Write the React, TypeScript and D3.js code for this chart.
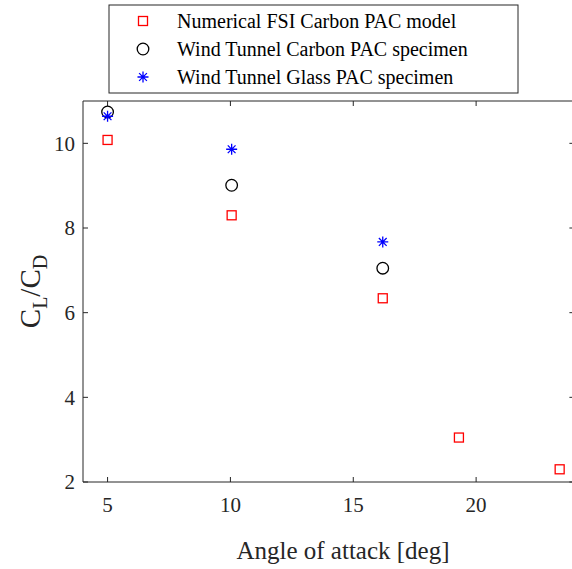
import React from "react";
import * as d3 from "d3";

// Angle of attack [deg] for each series
const fsiAngles = [5, 10.05, 16.2, 19.3, 23.4];
const fsiRatios = [10.08, 8.3, 6.34, 3.05, 2.3];

const carbonAngles = [5, 10.05, 16.2];
const carbonRatios = [10.74, 9.01, 7.05];

const glassAngles = [5, 10.05, 16.2];
const glassRatios = [10.64, 9.86, 7.67];

const xTicks = [5, 10, 15, 20];
const yTicks = [2, 4, 6, 8, 10];

const legendLabels = [
  "Numerical FSI Carbon PAC model",
  "Wind Tunnel Carbon PAC specimen",
  "Wind Tunnel Glass PAC specimen",
];

const W = 572;
const H = 569;
const plot = { left: 83, right: 574.4, top: 101, bottom: 482 };
const axisColor = "#262626";
const font = "'Liberation Serif', 'Times New Roman', serif";

function Square({ x, y }: { x: number; y: number }) {
  const s = 9;
  return (
    <rect x={x - s / 2} y={y - s / 2} width={s} height={s} fill="none" stroke="#ff0000" strokeWidth={1.3} />
  );
}

function Circle({ x, y }: { x: number; y: number }) {
  return <circle cx={x} cy={y} r={5.8} fill="none" stroke="#000" strokeWidth={1.3} />;
}

function Asterisk({ x, y }: { x: number; y: number }) {
  const r = 5.5;
  const d = r * Math.SQRT1_2;
  const path = `M${x - r},${y}H${x + r}M${x},${y - r}V${y + r}M${x - d},${y - d}L${x + d},${y + d}M${x - d},${y + d}L${x + d},${y - d}`;
  return <path d={path} stroke="#0000ff" strokeWidth={1.3} fill="none" />;
}

export default function App() {
  const x = d3.scaleLinear().domain([4, 24]).range([plot.left, plot.right]);
  const y = d3.scaleLinear().domain([2, 11]).range([plot.bottom, plot.top]);
  const tick = 5;

  const legend = { x: 109, y: 5, w: 409, h: 88 };
  const rowY = [21, 49, 77];
  const markerX = 143;
  const textX = 177;

  return (
    <svg
      width={W}
      height={H}
      style={{ position: "absolute", left: 0, top: 0, background: "#fff" }}
      fontFamily={font}
    >
      <rect x={0} y={0} width={W} height={H} fill="#fff" />
      {/* axes box */}
      <g stroke={axisColor} strokeWidth={1} fill="none">
        <line x1={plot.left} y1={plot.bottom} x2={plot.right} y2={plot.bottom} />
        <line x1={plot.left} y1={plot.top} x2={plot.right} y2={plot.top} />
        <line x1={plot.left} y1={plot.top} x2={plot.left} y2={plot.bottom} />
        <line x1={plot.right} y1={plot.top} x2={plot.right} y2={plot.bottom} />
        {xTicks.map((t) => (
          <g key={"xt" + t}>
            <line x1={x(t)} x2={x(t)} y1={plot.bottom} y2={plot.bottom - tick} />
            <line x1={x(t)} x2={x(t)} y1={plot.top} y2={plot.top + tick} />
          </g>
        ))}
        {yTicks.map((t) => (
          <g key={"yt" + t}>
            <line x1={plot.left} x2={plot.left + tick} y1={y(t)} y2={y(t)} />
            <line x1={plot.right} x2={plot.right - tick} y1={y(t)} y2={y(t)} />
          </g>
        ))}
      </g>
      {/* tick labels */}
      <g fill={axisColor} fontSize={21}>
        {xTicks.map((t) => (
          <text key={"xl" + t} x={x(t)} y={plot.bottom + 30} textAnchor="middle">
            {t}
          </text>
        ))}
        {yTicks.map((t) => (
          <text key={"yl" + t} x={plot.left - 8} y={y(t)} dy="0.35em" textAnchor="end">
            {t}
          </text>
        ))}
      </g>
      {/* axis titles */}
      <text x={343} y={559} textAnchor="middle" fontSize={25} fill={axisColor}>
        Angle of attack [deg]
      </text>
      <text transform={`translate(40, ${(plot.top + plot.bottom) / 2}) rotate(-90)`} textAnchor="middle" fontSize={29} fill={axisColor}>
        C<tspan fontSize={20} dy={7}>L</tspan>
        <tspan dy={-7}>/C</tspan>
        <tspan fontSize={20} dy={7}>D</tspan>
      </text>
      {/* data markers */}
      {fsiAngles.map((a, i) => (
        <Square key={"s" + i} x={x(a)} y={y(fsiRatios[i])} />
      ))}
      {carbonAngles.map((a, i) => (
        <Circle key={"c" + i} x={x(a)} y={y(carbonRatios[i])} />
      ))}
      {glassAngles.map((a, i) => (
        <Asterisk key={"a" + i} x={x(a)} y={y(glassRatios[i])} />
      ))}
      {/* legend */}
      <rect x={legend.x} y={legend.y} width={legend.w} height={legend.h} fill="#fff" stroke={axisColor} strokeWidth={1} />
      <Square x={markerX} y={rowY[0]} />
      <Circle x={markerX} y={rowY[1]} />
      <Asterisk x={markerX} y={rowY[2]} />
      {legendLabels.map((l, i) => (
        <text key={"lg" + i} x={textX} y={rowY[i]} dy="0.35em" fontSize={20} fill="#000">
          {l}
        </text>
      ))}
    </svg>
  );
}
